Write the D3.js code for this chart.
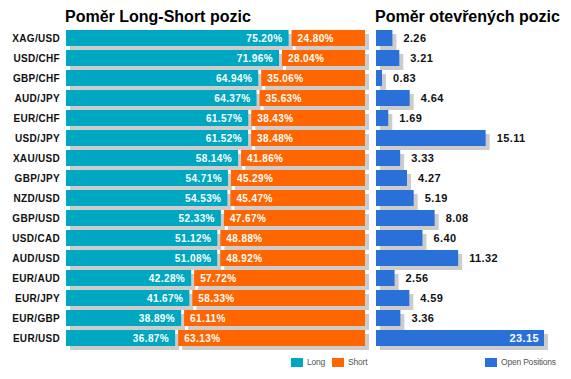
<!DOCTYPE html>
<html>
<head>
<meta charset="utf-8">
<script src="https://cdn.jsdelivr.net/npm/d3@7"></script>
<style>
  body { margin: 0; background: #fff; }
  svg { display: block; font-family: Arial, "Liberation Sans", sans-serif; }
</style>
</head>
<body>
<svg id="chart"></svg>
<script>
const pairs = ['XAG/USD', 'USD/CHF', 'GBP/CHF', 'AUD/JPY', 'EUR/CHF', 'USD/JPY', 'XAU/USD', 'GBP/JPY',
  'NZD/USD', 'GBP/USD', 'USD/CAD', 'AUD/USD', 'EUR/AUD', 'EUR/JPY', 'EUR/GBP', 'EUR/USD'];
const longPct = [75.20, 71.96, 64.94, 64.37, 61.57, 61.52, 58.14, 54.71, 54.53, 52.33, 51.12, 51.08, 42.28, 41.67, 38.89, 36.87];
const shortPct = [24.80, 28.04, 35.06, 35.63, 38.43, 38.48, 41.86, 45.29, 45.47, 47.67, 48.88, 48.92, 57.72, 58.33, 61.11, 63.13];
const openPos = [2.26, 3.21, 0.83, 4.64, 1.69, 15.11, 3.33, 4.27, 5.19, 8.08, 6.40, 11.32, 2.56, 4.59, 3.36, 23.15];
const titles = ['Poměr Long-Short pozic', 'Poměr otevřených pozic'];
const legendLeft = ['Long', 'Short'];
const legendRight = ['Open Positions'];

const width = 571, height = 379;
const colLong = '#00a7c0', colShort = '#ff6600', colOpen = '#2a70d9', colShadow = '#cccccc';
const shadowDx = 4, shadowDy = 4;

const rows = pairs.map((p, i) => ({pair: p, long: longPct[i], short: shortPct[i], open: openPos[i]}));

const svg = d3.select('#chart').attr('width', width).attr('height', height);

const y = d3.scaleBand().domain(pairs).range([28, 348]).paddingInner(0.2).paddingOuter(0.1);

// left panel: long / short split
const leftX0 = 66, gap = 3;
const xPct = d3.scaleLinear().domain([0, 100]).range([0, 296]);

const left = svg.append('g').attr('transform', `translate(${leftX0},0)`);

// shadows
left.selectAll('.shL').data(rows).join('rect')
  .attr('x', shadowDx).attr('y', d => y(d.pair) + shadowDy)
  .attr('width', d => xPct(d.long)).attr('height', y.bandwidth())
  .attr('fill', colShadow);
left.selectAll('.shS').data(rows).join('rect')
  .attr('x', d => xPct(d.long) + gap + shadowDx).attr('y', d => y(d.pair) + shadowDy)
  .attr('width', d => xPct(d.short)).attr('height', y.bandwidth())
  .attr('fill', colShadow);

left.selectAll('.long').data(rows).join('rect')
  .attr('x', 0).attr('y', d => y(d.pair))
  .attr('width', d => xPct(d.long)).attr('height', y.bandwidth())
  .attr('fill', colLong);
left.selectAll('.short').data(rows).join('rect')
  .attr('x', d => xPct(d.long) + gap).attr('y', d => y(d.pair))
  .attr('width', d => xPct(d.short)).attr('height', y.bandwidth())
  .attr('fill', colShort);

const valStyle = s => s.attr('fill', '#fff').attr('font-size', 10).attr('font-weight', 'bold')
  .attr('letter-spacing', 0.4).attr('dy', '0.35em');

left.selectAll('.ltxt').data(rows).join('text')
  .attr('x', d => xPct(d.long) - 6).attr('y', d => y(d.pair) + y.bandwidth() / 2)
  .attr('text-anchor', 'end').text(d => d.long.toFixed(2) + '%').call(valStyle);
left.selectAll('.stxt').data(rows).join('text')
  .attr('x', d => xPct(d.long) + gap + 6).attr('y', d => y(d.pair) + y.bandwidth() / 2)
  .text(d => d.short.toFixed(2) + '%').call(valStyle);

// category labels
svg.selectAll('.cat').data(rows).join('text')
  .attr('x', 60).attr('y', d => y(d.pair) + y.bandwidth() / 2).attr('dy', '0.35em')
  .attr('text-anchor', 'end').attr('font-size', 10).attr('font-weight', 'bold')
  .attr('letter-spacing', 0.3).attr('fill', '#111')
  .text(d => d.pair);

// right panel: open positions
const rightX0 = 376;
const xOpen = d3.scaleLinear().domain([0, d3.max(openPos)]).range([0, 168]);
const right = svg.append('g').attr('transform', `translate(${rightX0},0)`);

right.selectAll('.shO').data(rows).join('rect')
  .attr('x', shadowDx).attr('y', d => y(d.pair) + shadowDy)
  .attr('width', d => xOpen(d.open)).attr('height', y.bandwidth())
  .attr('fill', colShadow);
right.selectAll('.open').data(rows).join('rect')
  .attr('x', 0).attr('y', d => y(d.pair))
  .attr('width', d => xOpen(d.open)).attr('height', y.bandwidth())
  .attr('fill', colOpen);

const inside = d => xOpen(d.open) > 150;
right.selectAll('.otxt').data(rows).join('text')
  .attr('x', d => inside(d) ? xOpen(d.open) - 5 : xOpen(d.open) + shadowDx + 7)
  .attr('y', d => y(d.pair) + y.bandwidth() / 2).attr('dy', '0.35em')
  .attr('text-anchor', d => inside(d) ? 'end' : 'start')
  .attr('font-size', 11).attr('font-weight', 'bold').attr('letter-spacing', 0.4)
  .attr('fill', d => inside(d) ? '#fff' : '#111')
  .text(d => d.open.toFixed(2));

// titles
svg.selectAll('.title').data(titles).join('text')
  .attr('x', (d, i) => i === 0 ? 65 : 375).attr('y', 22)
  .attr('font-size', 16).attr('font-weight', 'bold').attr('fill', '#000')
  .text(d => d);

// legends
const legendItems = [
  {label: legendLeft[0], color: colLong, x: 291},
  {label: legendLeft[1], color: colShort, x: 332},
  {label: legendRight[0], color: colOpen, x: 485}
];
const lg = svg.selectAll('.lg').data(legendItems).join('g')
  .attr('transform', d => `translate(${d.x},358)`);
lg.append('rect').attr('width', 12).attr('height', 9).attr('fill', d => d.color);
lg.append('text').attr('x', 16).attr('y', 4.5).attr('dy', '0.35em')
  .attr('font-size', 8.5).attr('fill', '#555').attr('letter-spacing', -0.2)
  .text(d => d.label);
</script>
</body>
</html>
